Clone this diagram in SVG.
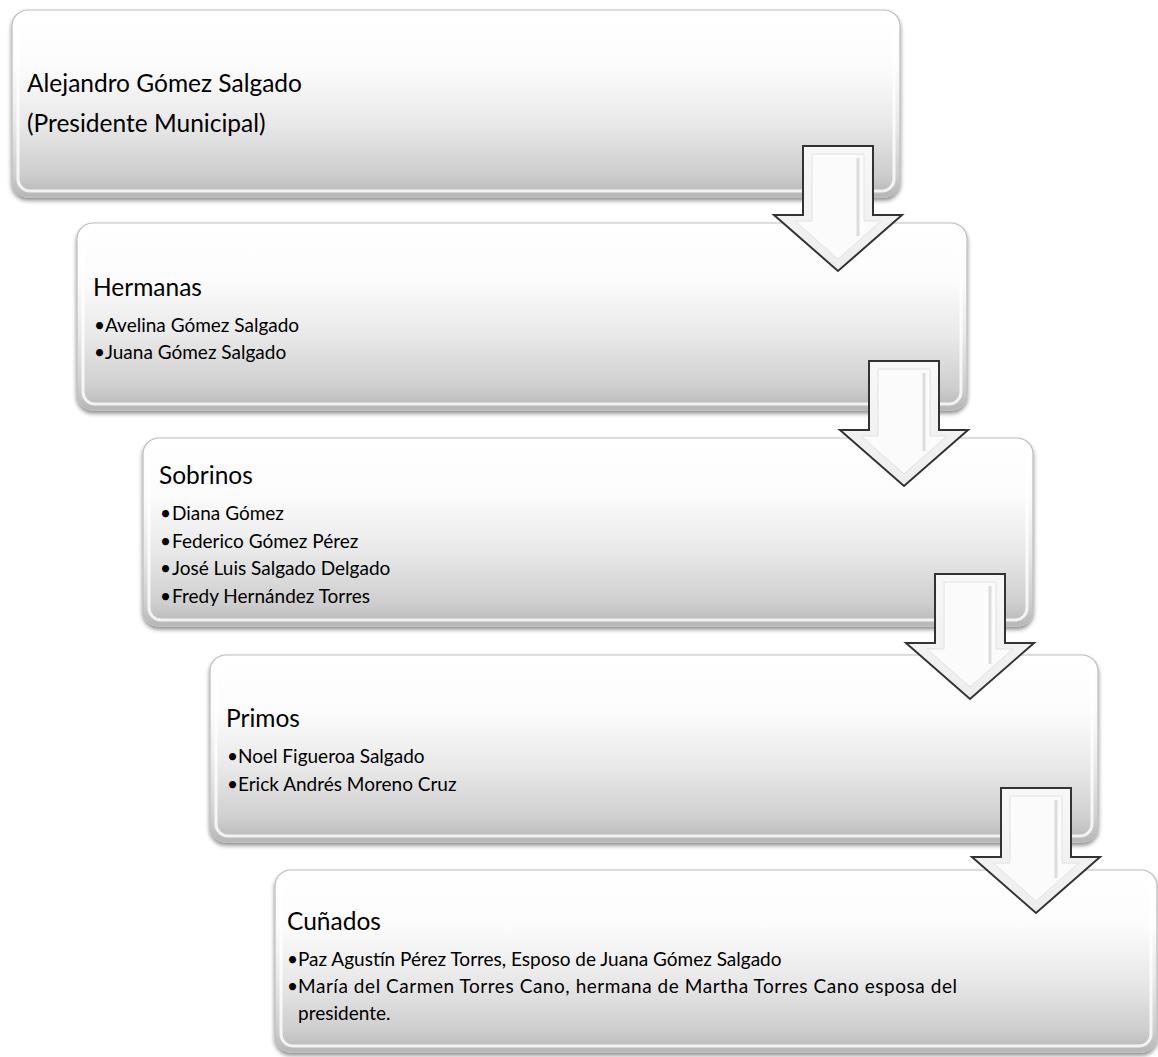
<svg xmlns="http://www.w3.org/2000/svg" xmlns:xlink="http://www.w3.org/1999/xlink" width="1158" height="1057" viewBox="0 0 1158 1057">
  <defs>
    <linearGradient id="boxFill" x1="0" y1="0" x2="0" y2="1">
      <stop offset="0" stop-color="#ffffff"/>
      <stop offset="0.3" stop-color="#fcfcfc"/>
      <stop offset="0.6" stop-color="#e9e9e9"/>
      <stop offset="0.88" stop-color="#cecece"/>
      <stop offset="1" stop-color="#b6b6b6"/>
    </linearGradient>
    <linearGradient id="arrowFill" x1="0" y1="0" x2="0" y2="1">
      <stop offset="0" stop-color="#f8f8f8"/>
      <stop offset="1" stop-color="#ededed"/>
    </linearGradient>
    <filter id="shadow" x="-5%" y="-10%" width="110%" height="125%">
      <feDropShadow dx="0" dy="3" stdDeviation="2" flood-color="#000" flood-opacity="0.45"/>
    </filter>
    <g id="arrow">
      <polygon points="0,0 70,0 70,69 99,69 35,125 -29,69 0,69" fill="url(#arrowFill)" stroke="#333" stroke-width="2" stroke-linejoin="miter"/>
      <polygon points="9,8 61,8 61,75 78,75 35,113 -8,75 9,75" fill="#fbfbfb" stroke="#e2e2e2" stroke-width="1"/>
      <line x1="55" y1="12" x2="55" y2="90" stroke="#dcdcdc" stroke-width="3"/>
    </g>
    <style>
      .box { fill: url(#boxFill); stroke: #bdbdbd; stroke-width: 1.2; filter: url(#shadow); }
      .inner { fill: none; stroke: #ffffff; stroke-width: 3; stroke-opacity: 0.8; }
      .title { font-family: Lato, "Liberation Sans", sans-serif; font-size: 24.5px; fill: #000; }
      .item { font-family: Lato, "Liberation Sans", sans-serif; font-size: 19px; fill: #000; }
    </style>
  </defs>

  <g id="node-presidente">
    <rect class="box" x="12" y="10" width="888" height="187" rx="16"/>
    <rect class="inner" x="18" y="16" width="876" height="175" rx="12"/>
    <text class="title" x="27" y="92">Alejandro Gómez Salgado</text>
    <text class="title" x="27" y="132">(Presidente Municipal)</text>
  </g>

  <g id="node-hermanas">
    <rect class="box" x="77" y="223" width="890" height="187" rx="16"/>
    <rect class="inner" x="83" y="229" width="878" height="175" rx="12"/>
    <text class="title" x="93" y="296">Hermanas</text>
    <text class="item" x="94" y="332">•</text>
    <text class="item" x="105" y="332">Avelina Gómez Salgado</text>
    <text class="item" x="94" y="359">•</text>
    <text class="item" x="105" y="359">Juana Gómez Salgado</text>
  </g>

  <g id="node-sobrinos">
    <rect class="box" x="143" y="438" width="890" height="188" rx="16"/>
    <rect class="inner" x="149" y="444" width="878" height="176" rx="12"/>
    <text class="title" x="159" y="484">Sobrinos</text>
    <text class="item" x="160" y="520">•</text>
    <text class="item" x="172" y="520">Diana Gómez</text>
    <text class="item" x="160" y="548">•</text>
    <text class="item" x="172" y="548">Federico Gómez Pérez</text>
    <text class="item" x="160" y="575">•</text>
    <text class="item" x="172" y="575">José Luis Salgado Delgado</text>
    <text class="item" x="160" y="603">•</text>
    <text class="item" x="172" y="603">Fredy Hernández Torres</text>
  </g>

  <g id="node-primos">
    <rect class="box" x="210" y="655" width="888" height="187" rx="16"/>
    <rect class="inner" x="216" y="661" width="876" height="175" rx="12"/>
    <text class="title" x="226" y="727">Primos</text>
    <text class="item" x="227" y="763">•</text>
    <text class="item" x="238" y="763">Noel Figueroa Salgado</text>
    <text class="item" x="227" y="791">•</text>
    <text class="item" x="238" y="791">Erick Andrés Moreno Cruz</text>
  </g>

  <g id="node-cunados">
    <rect class="box" x="275" y="870" width="882" height="182" rx="16"/>
    <rect class="inner" x="281" y="876" width="870" height="170" rx="12"/>
    <text class="title" x="287" y="930">Cuñados</text>
    <text class="item" x="287" y="966">•</text>
    <text class="item" x="298" y="966">Paz Agustín Pérez Torres, Esposo de Juana Gómez Salgado</text>
    <text class="item" x="287" y="993">•</text>
    <text class="item" x="298" y="993" textLength="659" lengthAdjust="spacing">María del Carmen Torres Cano, hermana de Martha Torres Cano esposa del</text>
    <text class="item" x="298" y="1020">presidente.</text>
  </g>

  <g id="connectors">
    <use xlink:href="#arrow" href="#arrow" transform="translate(803,146)"/>
    <use xlink:href="#arrow" href="#arrow" transform="translate(869,361)"/>
    <use xlink:href="#arrow" href="#arrow" transform="translate(935,574)"/>
    <use xlink:href="#arrow" href="#arrow" transform="translate(1001,788)"/>
  </g>
</svg>
